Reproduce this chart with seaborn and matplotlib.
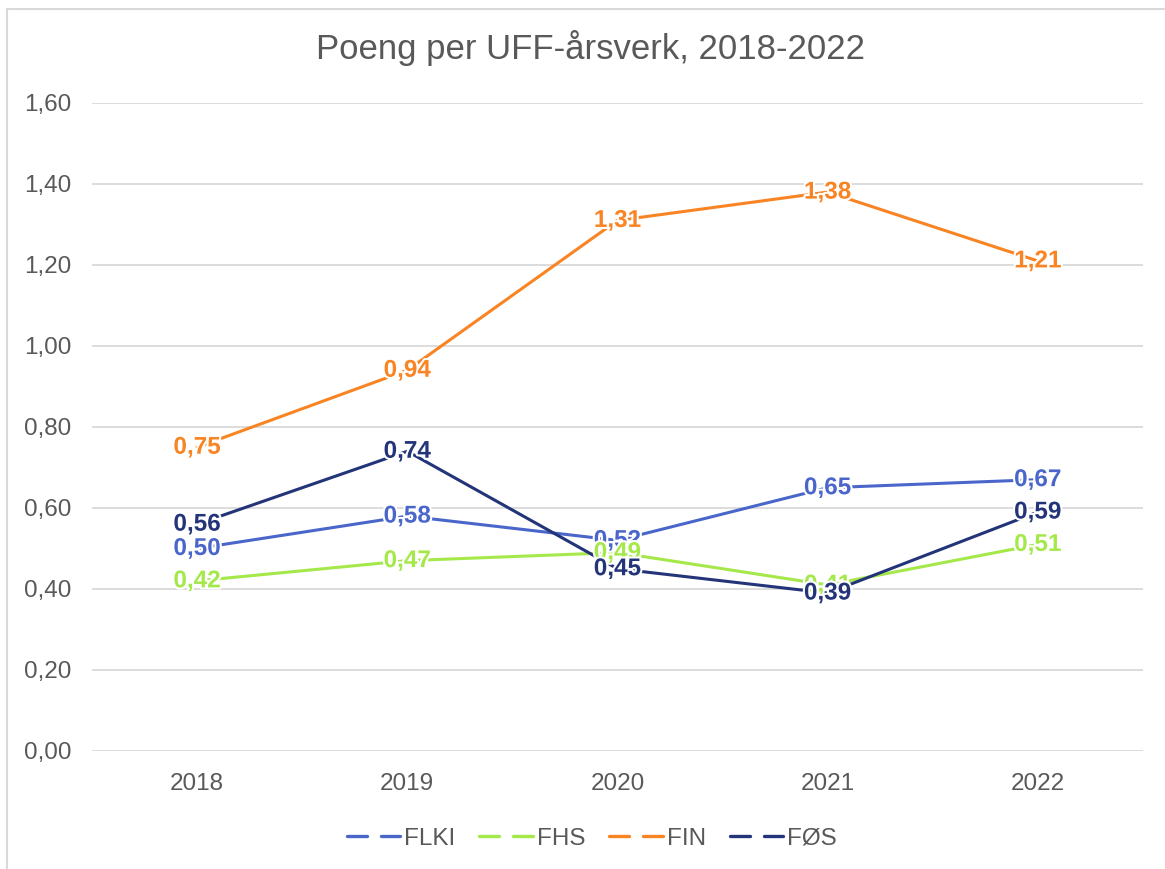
import pandas as pd
import matplotlib.pyplot as plt
import matplotlib.patheffects as pe
from matplotlib.lines import Line2D
from matplotlib.patches import Rectangle
import seaborn as sns

# ── Data ──────────────────────────────────────────────────────────────────────
years = ['2018', '2019', '2020', '2021', '2022']
flki = [0.50, 0.58, 0.52, 0.65, 0.67]
fhs = [0.42, 0.47, 0.49, 0.41, 0.51]
fin = [0.75, 0.94, 1.31, 1.38, 1.21]
fos = [0.56, 0.74, 0.45, 0.39, 0.59]

series = ['FLKI', 'FHS', 'FIN', 'FØS']
values = [flki, fhs, fin, fos]
COLORS = ['#4A66CB', '#A5E84A', '#F98423', '#233479']
GREY = '#595959'

df = pd.DataFrame([
    {'year': y, 'pos': i, 'series': s, 'value': v}
    for s, vals in zip(series, values)
    for i, (y, v) in enumerate(zip(years, vals))
])

# ── Setup ─────────────────────────────────────────────────────────────────────
sns.set_theme(style='white')
plt.rcParams['font.family'] = ['Liberation Sans', 'DejaVu Sans']

fig = plt.figure(figsize=(11.65, 8.69), dpi=100)
ax = fig.add_axes([0.079, 0.1358, 0.902, 0.7457])

sns.lineplot(data=df, x='pos', y='value', hue='series', hue_order=series,
             palette=COLORS, linewidth=2.2, ax=ax, legend=False,
             sort=False)

# data labels, centred on the points with a white halo
for s, c in zip(series, COLORS):
    sub = df[df['series'] == s]
    for _, row in sub.iterrows():
        ax.text(row['pos'], row['value'], f"{row['value']:.2f}".replace('.', ','),
                ha='center', va='center', fontsize=17.5, fontweight='bold',
                color=c, zorder=5,
                path_effects=[pe.withStroke(linewidth=3, foreground='white')])

ax.set_xlim(-0.5, len(years) - 0.5)
ax.set_ylim(0, 1.6)
ax.set_xticks(range(len(years)))
ax.set_xticklabels(years)
ax.set_yticks([i * 0.2 for i in range(9)])
ax.set_yticklabels([f"{i * 0.2:.2f}".replace('.', ',') for i in range(9)])
ax.tick_params(axis='both', labelsize=17.5, colors=GREY, length=0)
ax.tick_params(axis='y', pad=15)
ax.tick_params(axis='x', pad=16)
ax.set_xlabel('')
ax.set_ylabel('')
for sp in ax.spines.values():
    sp.set_visible(False)
ax.grid(axis='y', color='#D9D9D9', linewidth=1.3)
ax.set_axisbelow(True)

fig.suptitle('Poeng per UFF-årsverk, 2018-2022', x=0.507, y=0.965,
             fontsize=25, color=GREY)

handles = [Line2D([0], [0], color=c, linewidth=2.4, dashes=(6.0, 4.2),
                  dash_capstyle='round')
           for c in COLORS]
fig.legend(handles, series, loc='center', bbox_to_anchor=(0.508, 0.035),
           ncol=4, frameon=False, fontsize=17.5, labelcolor=GREY,
           handlelength=2.2, handletextpad=0.15, columnspacing=1.0)

# outer chart border (top and left visible)
fig.patches.append(Rectangle((7 / 1165, -0.1), 1.2, 1.1 - 9 / 869,
                             transform=fig.transFigure, fill=False,
                             edgecolor='#D9D9D9', linewidth=1.5))

fig.savefig('out.png', dpi=100)
